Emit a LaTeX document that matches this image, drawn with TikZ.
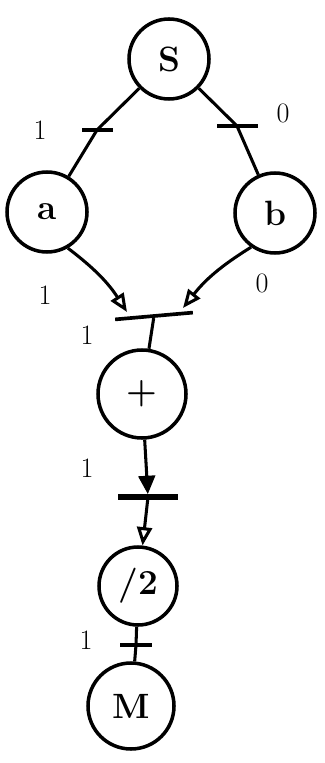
\documentclass[tikz,border=0pt]{standalone}
\usepackage{tikz}
\usetikzlibrary{positioning, arrows.meta}

\begin{document}
\begin{tikzpicture}[
      x=0.03cm, y=-0.03cm,
      place/.style={
          draw, circle, line width=3pt,
          minimum size=2.4cm, inner sep=0pt,
          font=\fontsize{30}{36}\selectfont\bfseries
        },
      trans/.style={
          fill=black, rectangle, inner sep=0pt,
          minimum height=0.11cm
        },
      weight/.style={font=\fontsize{24}{28}\selectfont},
      arc/.style={line width=2.6pt},
      openarrow/.style={-{Triangle[open, length=0.55cm, width=0.45cm]},
          line width=2.6pt},
      fullarrow/.style={-{Triangle[length=0.55cm, width=0.5cm]},
          line width=2.6pt}
    ]
    \useasboundingbox (0,0) rectangle (324,763);

    % -- places --
    \node[place] (s)    at (169,59)  {S};
    \node[place] (a)    at (47,212)  {a};
    \node[place] (b)    at (275,213) {b};
    \node[place, minimum size=2.64cm] (plus) at (142,394) {+};
    \node[place, minimum size=2.34cm] (half) at (138,586) {/2};
    \node[place, minimum size=2.58cm] (m)    at (131,706) {M};

    % -- transitions --
    \node[trans, minimum width=0.93cm] (tsa)   at (97,130)  {};
    \node[trans, minimum width=1.23cm] (tsb)   at (237,126) {};
    \node[trans, minimum width=2.34cm, rotate=5] (tjoin) at (154,316) {};
    \node[trans, minimum width=1.8cm, minimum height=0.16cm] (tsum) at (148,497) {};
    \node[trans, minimum width=0.96cm] (thalf) at (136,645) {};

    \coordinate (ina) at (127,312);
    \coordinate (inb) at (183,308);

    % -- weights --
    \node[weight] (w1) at (40,130)  {1};
    \node[weight] (w2) at (283,113) {0};
    \node[weight] (w3) at (45,295)  {1};
    \node[weight] (w4) at (262,283) {0};
    \node[weight] (w5) at (87,335)  {1};
    \node[weight] (w6) at (87,468)  {1};
    \node[weight] (w7) at (86,640)  {1};

    % -- arcs --
    \draw[arc] (s) -- (tsa.center) -- (a);
    \draw[arc] (s) -- (tsb.center) -- (b);
    \draw[openarrow] (a.-60) to[bend left=10] (ina);
    \draw[openarrow] (b.-125) to[bend right=10] (inb);
    \draw[arc] (tjoin) -- (plus);
    \draw[fullarrow] (plus) -- (tsum);
    \draw[openarrow] (tsum) -- (half);
    \draw[arc] (half) -- (thalf.center) -- (m);

  \end{tikzpicture}
\end{document}
